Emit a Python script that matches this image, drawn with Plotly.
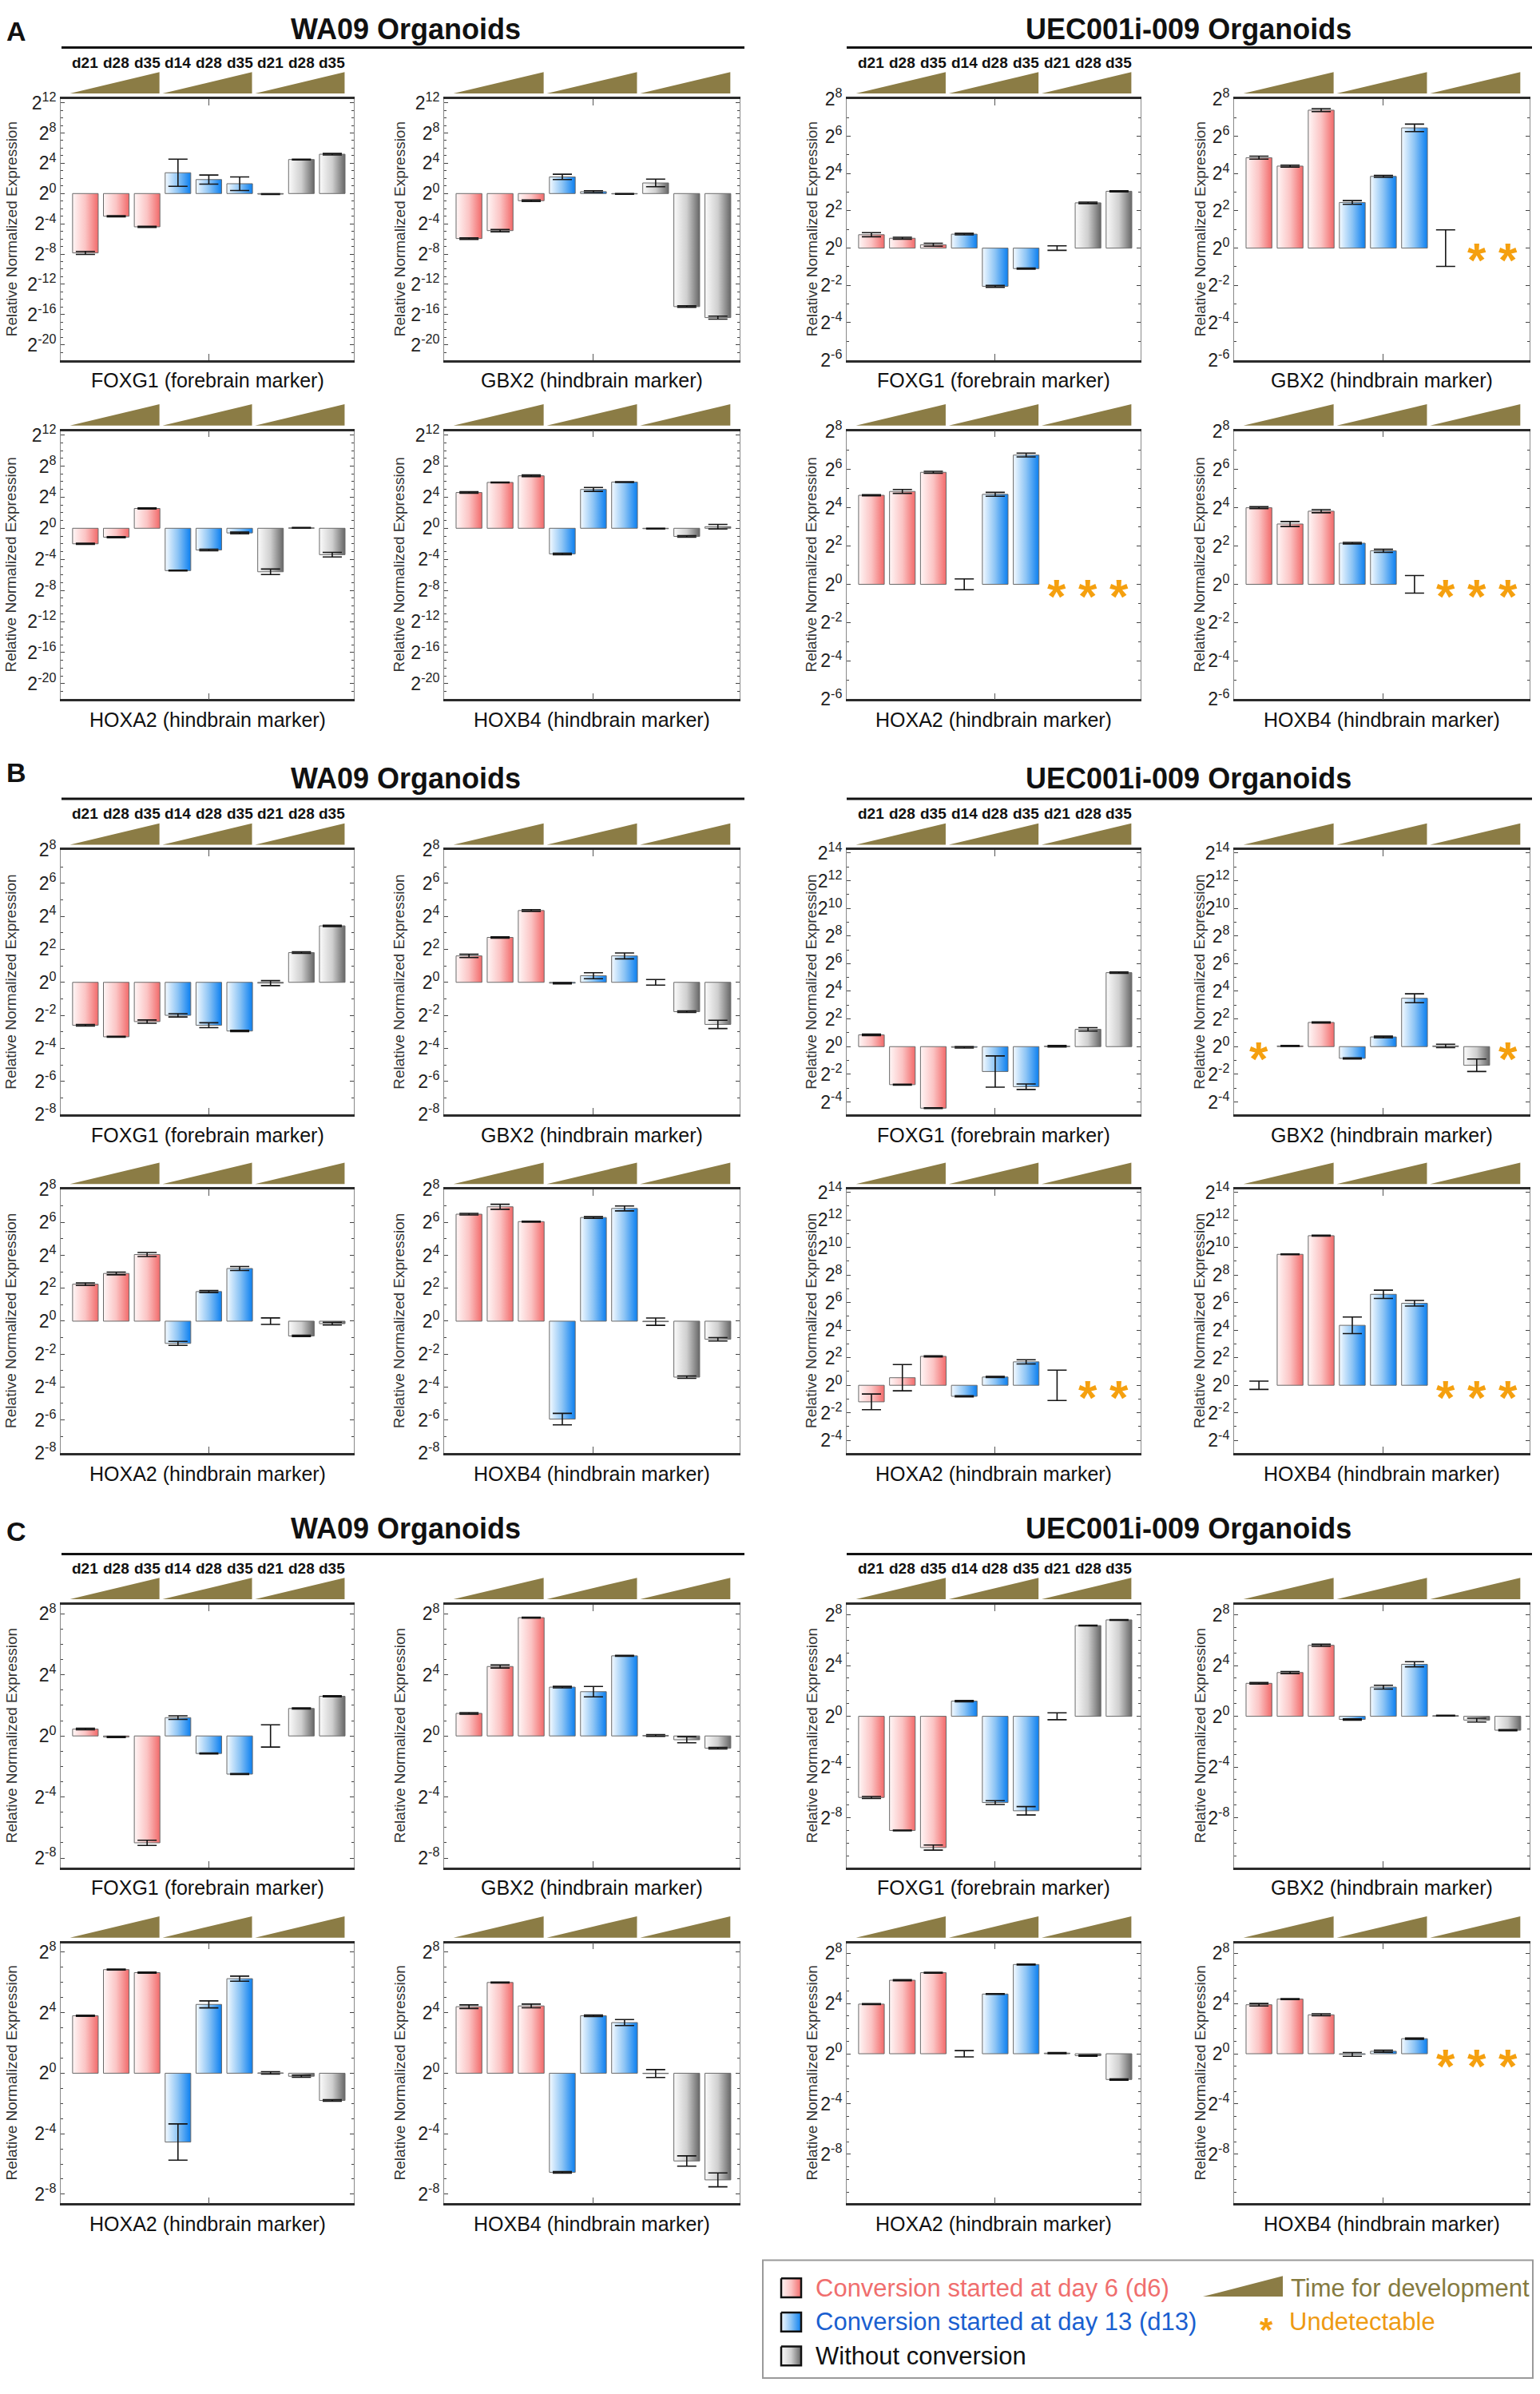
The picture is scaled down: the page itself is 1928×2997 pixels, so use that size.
import plotly.graph_objects as go

# ---------------------------------------------------------------- data
# values are log2(relative normalized expression); None = undetectable
SLOT_LABELS = ["d21", "d28", "d35", "d14", "d28", "d35", "d21", "d28", "d35"]
SLOT_GROUP = ["d6", "d6", "d6", "d13", "d13", "d13", "none", "none", "none"]
GENES = ["FOXG1", "GBX2", "HOXA2", "HOXB4"]
GENE_ROLE = ["forebrain marker", "hindbrain marker", "hindbrain marker", "hindbrain marker"]
CELL_LINES = ["WA09 Organoids", "UEC001i-009 Organoids"]
SECTIONS = ["A", "B", "C"]

A_WA09_FOXG1 = [-7.85, -3.0, -4.4, 2.75, 1.85, 1.3, -0.08, 4.5, 5.2]
A_WA09_FOXG1_ERR = [0.2, 0.08, 0.08, 1.8, 0.6, 0.9, 0.05, 0.05, 0.1]
A_WA09_GBX2 = [-5.95, -4.9, -0.95, 2.2, 0.25, -0.05, 1.4, -14.95, -16.4]
A_WA09_GBX2_ERR = [0.1, 0.15, 0.1, 0.35, 0.12, 0.05, 0.5, 0.1, 0.2]
A_WA09_HOXA2 = [-2.0, -1.15, 2.55, -5.45, -2.8, -0.6, -5.6, 0.05, -3.4]
A_WA09_HOXA2_ERR = [0.08, 0.08, 0.08, 0.05, 0.1, 0.1, 0.35, 0.05, 0.3]
A_WA09_HOXB4 = [4.6, 5.9, 6.75, -3.3, 5.0, 5.95, -0.05, -1.05, 0.2]
A_WA09_HOXB4_ERR = [0.1, 0.05, 0.1, 0.1, 0.25, 0.05, 0.05, 0.1, 0.3]

A_UEC_FOXG1 = [0.72, 0.53, 0.18, 0.75, -2.05, -1.1, 0.0, 2.43, 3.05]
A_UEC_FOXG1_ERR = [0.11, 0.05, 0.08, 0.04, 0.05, 0.03, 0.12, 0.04, 0.03]
A_UEC_GBX2 = [4.85, 4.4, 7.4, 2.45, 3.85, 6.45, 0.0, None, None]
A_UEC_GBX2_ERR = [0.08, 0.05, 0.08, 0.1, 0.05, 0.2, 0.98, 0, 0]
A_UEC_HOXA2 = [4.65, 4.85, 5.85, 0.0, 4.7, 6.75, None, None, None]
A_UEC_HOXA2_ERR = [0.03, 0.1, 0.05, 0.28, 0.1, 0.1, 0, 0, 0]
A_UEC_HOXB4 = [4.0, 3.15, 3.82, 2.15, 1.75, 0.0, None, None, None]
A_UEC_HOXB4_ERR = [0.05, 0.13, 0.08, 0.04, 0.08, 0.46, 0, 0, 0]

B_WA09_FOXG1 = [-2.6, -3.3, -2.38, -2.0, -2.6, -2.95, -0.05, 1.8, 3.42]
B_WA09_FOXG1_ERR = [0.05, 0.03, 0.1, 0.1, 0.15, 0.04, 0.15, 0.05, 0.04]
B_WA09_GBX2 = [1.6, 2.72, 4.35, -0.05, 0.4, 1.6, 0.0, -1.78, -2.55]
B_WA09_GBX2_ERR = [0.1, 0.04, 0.05, 0.04, 0.18, 0.18, 0.17, 0.05, 0.25]
B_WA09_HOXA2 = [2.25, 2.9, 4.05, -1.35, 1.8, 3.2, 0.0, -0.9, -0.15]
B_WA09_HOXA2_ERR = [0.08, 0.08, 0.12, 0.12, 0.06, 0.12, 0.2, 0.04, 0.08]
B_WA09_HOXB4 = [6.5, 6.95, 6.05, -5.95, 6.3, 6.85, -0.03, -3.4, -1.1]
B_WA09_HOXB4_ERR = [0.05, 0.15, 0.03, 0.35, 0.05, 0.15, 0.22, 0.07, 0.1]

B_UEC_FOXG1 = [0.85, -2.75, -4.45, -0.05, -1.8, -2.9, 0.03, 1.25, 5.35]
B_UEC_FOXG1_ERR = [0.05, 0.03, 0.03, 0.05, 1.13, 0.2, 0.05, 0.12, 0.05]
B_UEC_GBX2 = [None, 0.05, 1.75, -0.85, 0.7, 3.5, 0.05, -1.35, None]
B_UEC_GBX2_ERR = [0, 0.04, 0.04, 0.04, 0.06, 0.32, 0.12, 0.45, 0]
B_UEC_HOXA2 = [-1.2, 0.55, 2.1, -0.8, 0.6, 1.7, 0.0, None, None]
B_UEC_HOXA2_ERR = [0.57, 0.95, 0.04, 0.04, 0.04, 0.15, 1.1, 0, 0]
B_UEC_HOXB4 = [0.0, 9.5, 10.85, 4.35, 6.6, 5.95, None, None, None]
B_UEC_HOXB4_ERR = [0.3, 0.03, 0.03, 0.6, 0.3, 0.2, 0, 0, 0]

C_WA09_FOXG1 = [0.45, -0.07, -7.0, 1.2, -1.15, -2.5, 0.0, 1.8, 2.6]
C_WA09_FOXG1_ERR = [0.05, 0.04, 0.17, 0.12, 0.03, 0.03, 0.73, 0.04, 0.04]
C_WA09_GBX2 = [1.48, 4.55, 7.75, 3.2, 2.9, 5.25, 0.03, -0.25, -0.8]
C_WA09_GBX2_ERR = [0.05, 0.1, 0.03, 0.05, 0.34, 0.03, 0.06, 0.2, 0.05]
C_WA09_HOXA2 = [3.8, 6.85, 6.65, -4.55, 4.55, 6.25, 0.02, -0.2, -1.8]
C_WA09_HOXA2_ERR = [0.04, 0.03, 0.04, 1.2, 0.23, 0.17, 0.08, 0.07, 0.05]
C_WA09_HOXB4 = [4.4, 6.0, 4.45, -6.55, 3.8, 3.35, -0.02, -5.8, -7.05]
C_WA09_HOXB4_ERR = [0.12, 0.03, 0.12, 0.05, 0.05, 0.2, 0.26, 0.34, 0.46]

C_UEC_FOXG1 = [-6.4, -9.0, -10.35, 1.2, -6.8, -7.45, 0.0, 7.15, 7.6]
C_UEC_FOXG1_ERR = [0.08, 0.03, 0.2, 0.05, 0.15, 0.33, 0.27, 0.03, 0.03]
C_UEC_GBX2 = [2.6, 3.45, 5.6, -0.25, 2.3, 4.1, 0.05, -0.3, -1.1]
C_UEC_GBX2_ERR = [0.06, 0.08, 0.08, 0.05, 0.15, 0.2, 0.03, 0.15, 0.04]
C_UEC_HOXA2 = [3.95, 5.85, 6.45, 0.0, 4.75, 7.1, 0.05, -0.15, -2.05]
C_UEC_HOXA2_ERR = [0.04, 0.04, 0.04, 0.25, 0.03, 0.04, 0.04, 0.05, 0.05]
C_UEC_HOXB4 = [3.9, 4.35, 3.1, -0.05, 0.2, 1.2, None, None, None]
C_UEC_HOXB4_ERR = [0.1, 0.04, 0.08, 0.15, 0.08, 0.05, 0, 0, 0]

PANELS = [
    ("A", 0, 0, A_WA09_FOXG1, A_WA09_FOXG1_ERR), ("A", 0, 1, A_WA09_GBX2, A_WA09_GBX2_ERR),
    ("A", 0, 2, A_WA09_HOXA2, A_WA09_HOXA2_ERR), ("A", 0, 3, A_WA09_HOXB4, A_WA09_HOXB4_ERR),
    ("A", 1, 0, A_UEC_FOXG1, A_UEC_FOXG1_ERR), ("A", 1, 1, A_UEC_GBX2, A_UEC_GBX2_ERR),
    ("A", 1, 2, A_UEC_HOXA2, A_UEC_HOXA2_ERR), ("A", 1, 3, A_UEC_HOXB4, A_UEC_HOXB4_ERR),
    ("B", 0, 0, B_WA09_FOXG1, B_WA09_FOXG1_ERR), ("B", 0, 1, B_WA09_GBX2, B_WA09_GBX2_ERR),
    ("B", 0, 2, B_WA09_HOXA2, B_WA09_HOXA2_ERR), ("B", 0, 3, B_WA09_HOXB4, B_WA09_HOXB4_ERR),
    ("B", 1, 0, B_UEC_FOXG1, B_UEC_FOXG1_ERR), ("B", 1, 1, B_UEC_GBX2, B_UEC_GBX2_ERR),
    ("B", 1, 2, B_UEC_HOXA2, B_UEC_HOXA2_ERR), ("B", 1, 3, B_UEC_HOXB4, B_UEC_HOXB4_ERR),
    ("C", 0, 0, C_WA09_FOXG1, C_WA09_FOXG1_ERR), ("C", 0, 1, C_WA09_GBX2, C_WA09_GBX2_ERR),
    ("C", 0, 2, C_WA09_HOXA2, C_WA09_HOXA2_ERR), ("C", 0, 3, C_WA09_HOXB4, C_WA09_HOXB4_ERR),
    ("C", 1, 0, C_UEC_FOXG1, C_UEC_FOXG1_ERR), ("C", 1, 1, C_UEC_GBX2, C_UEC_GBX2_ERR),
    ("C", 1, 2, C_UEC_HOXA2, C_UEC_HOXA2_ERR), ("C", 1, 3, C_UEC_HOXB4, C_UEC_HOXB4_ERR),
]

# y-axis: range (log2) and labelled exponents per section / cell line
Y_SPEC = {
    ("A", 0): ([-22, 12.5], list(range(12, -21, -4))),
    ("A", 1): ([-6, 8], list(range(8, -7, -2))),
    ("B", 0): ([-8, 8], list(range(8, -9, -2))),
    ("B", 1): ([-4.9, 14.2], list(range(14, -5, -2))),
    ("C", 0): ([-8.6, 8.6], [8, 4, 0, -4, -8]),
    ("C", 1): ([-11.9, 8.8], [8, 4, 0, -4, -8, -12]),
}

LEGEND_ITEMS = ["Conversion started at day 6 (d6)", "Conversion started at day 13 (d13)", "Without conversion"]

# ---------------------------------------------------------------- layout / style
FIG_W, FIG_H = 1928, 2997
COL_PX = [(76, 443), (556, 926), (1060, 1428), (1545, 1915)]
ROW_PX = {"A": [(108, 438), (528, 867)], "B": [(1058, 1392), (1487, 1820)], "C": [(2012, 2344), (2440, 2769)]}
HEAD_PX = {"A": (22, 20, 43), "B": (960, 967, 993), "C": (1919, 1916, 1948)}
YTITLE_X = [14, 500, 1016, 1502]
BAR_W = 0.83
FONT = "Liberation Sans, Arial, sans-serif"
OLIVE = "#8b7c45"
ORANGE = "#f5a00f"
SCALES = {
    "d6": [[0, "#fff6f6"], [0.5, "#fbc4c4"], [1, "#f26a6a"]],
    "d13": [[0, "#f4faff"], [0.5, "#8cc4f5"], [1, "#0b7ff0"]],
    "none": [[0, "#fbfbfb"], [0.5, "#cfcfcf"], [1, "#666666"]],
}


def fx(p):
    return p / FIG_W


def fy(p):
    return 1 - p / FIG_H


def note(text, x, y, size, color="#111", xref="paper", yref="paper", xanchor="center", **kw):
    return dict(text=text, x=x, y=y, xref=xref, yref=yref, xanchor=xanchor, yanchor="middle",
                showarrow=False, font=dict(family=FONT, size=size, color=color), **kw)


fig = go.Figure()
layout = {}
annotations = []
shapes = []

for n, (sec, line, gi, vals, errs) in enumerate(PANELS, start=1):
    col = 2 * line + gi % 2
    row = gi // 2
    xl, xr = COL_PX[col]
    yt, yb = ROW_PX[sec][row]
    xa, ya = f"x{n}", f"y{n}"
    xkey = "xaxis" if n == 1 else f"xaxis{n}"
    ykey = "yaxis" if n == 1 else f"yaxis{n}"
    yr, tv = Y_SPEC[(sec, line)]
    layout[xkey] = dict(domain=[fx(xl), fx(xr)], anchor=ya, range=[0.2, 9.7], tickvals=[5],
                        ticks="inside", ticklen=8, tickcolor="#555", showticklabels=False,
                        showline=True, linecolor="#2b2b2b", linewidth=2.5, mirror="ticks",
                        showgrid=False, zeroline=False, fixedrange=True)
    layout[ykey] = dict(domain=[fy(yb), fy(yt)], anchor=xa, range=yr, tickvals=tv,
                        ticktext=[f"2<sup>{t}</sup>" for t in tv], ticks="inside", ticklen=5,
                        tickcolor="#444", minor=dict(dtick=1, ticks="inside", ticklen=3, tickcolor="#444"),
                        showline=True, linecolor="#8a8a8a", linewidth=1, mirror="ticks",
                        showgrid=False, zeroline=False, fixedrange=True,
                        tickfont=dict(family=FONT, size=23, color="#222"))

    ex, ey, ee = [], [], []
    for i, (v, e) in enumerate(zip(vals, errs)):
        xc = i + 1
        if v is None:
            annotations.append(note("<b>*</b>", xc, 0, 60, ORANGE, xref=xa, yref=ya, yshift=-15))
            continue
        if v != 0:
            x0, x1 = xc - BAR_W / 2, xc + BAR_W / 2
            fig.add_trace(go.Scatter(
                x=[x0, x0, x1, x1, x0], y=[0, v, v, 0, 0], mode="lines", fill="toself",
                fillgradient=dict(type="horizontal", colorscale=SCALES[SLOT_GROUP[i]]),
                line=dict(color="#6a6a6a", width=1), xaxis=xa, yaxis=ya,
                showlegend=False, hoverinfo="skip"))
        ex.append(xc)
        ey.append(v)
        ee.append(e)
    fig.add_trace(go.Scatter(x=ex, y=ey, mode="markers", marker=dict(size=1, color="rgba(0,0,0,0)"),
                             error_y=dict(type="data", array=ee, symmetric=True, color="#151515",
                                          thickness=1.6, width=12),
                             xaxis=xa, yaxis=ya, showlegend=False, hoverinfo="skip"))

    # development-time wedges above the panel
    for g in range(3):
        a0, a1 = 3 * g + 0.5, 3 * g + 3.4
        shapes.append(dict(type="path", xref=xa, yref="paper",
                           path=f"M {a0},{fy(yt - 7)} L {a1},{fy(yt - 7)} L {a1},{fy(yt - 34)} Z",
                           fillcolor=OLIVE, line=dict(width=0)))
    # day labels above first panel of each cell line
    if gi == 0:
        for i, lab in enumerate(SLOT_LABELS):
            annotations.append(note(f"<b>{lab}</b>", i + 1, fy(yt - 46), 19, xref=xa))
    # gene label below
    annotations.append(note(f"{GENES[gi]} ({GENE_ROLE[gi]})", fx((xl + xr) / 2), fy(yb + 26), 25))
    # y title
    annotations.append(note("Relative Normalized Expression", fx(YTITLE_X[col]), fy((yt + yb) / 2), 19,
                            "#333", textangle=-90))

# section headers
for sec in SECTIONS:
    ly, ty, ry = HEAD_PX[sec]
    annotations.append(note(f"<b>{sec}</b>", fx(20), fy(ly), 34))
    for line, (cx, r0, r1) in enumerate([(508, 77, 932), (1488, 1060, 1918)]):
        annotations.append(note(f"<b>{CELL_LINES[line]}</b>", fx(cx), fy(ty), 36))
        shapes.append(dict(type="line", xref="paper", yref="paper", x0=fx(r0), x1=fx(r1), y0=fy(ry), y1=fy(ry),
                           line=dict(color="#111", width=3)))

# ---------------------------------------------------------------- legend
LX0, LX1, LY0, LY1 = 955, 1919, 2841, 2990
shapes.append(dict(type="rect", xref="paper", yref="paper", x0=fx(LX0), x1=fx(LX1), y0=fy(LY1), y1=fy(LY0),
                   line=dict(color="#9a9a9a", width=2), fillcolor="rgba(0,0,0,0)"))
layout["xaxis25"] = dict(domain=[fx(LX0), fx(LX1)], range=[LX0, LX1], visible=False, anchor="y25", fixedrange=True)
layout["yaxis25"] = dict(domain=[fy(LY1), fy(LY0)], range=[LY1, LY0], visible=False, anchor="x25", fixedrange=True)
leg_rows = [2876, 2919, 2962]
leg_colors = ["#f06e6e", "#1a5fd0", "#111111"]
for k, grp in enumerate(["d6", "d13", "none"]):
    cy = leg_rows[k]
    fig.add_trace(go.Scatter(x=[978, 978, 1003, 1003, 978], y=[cy - 12, cy + 12, cy + 12, cy - 12, cy - 12],
                             mode="lines", fill="toself",
                             fillgradient=dict(type="horizontal", colorscale=SCALES[grp]),
                             line=dict(color="#111", width=2.5), xaxis="x25", yaxis="y25",
                             showlegend=False, hoverinfo="skip"))
    annotations.append(note(LEGEND_ITEMS[k], fx(1019), fy(cy), 31, leg_colors[k], xanchor="left"))
shapes.append(dict(type="path", xref="paper", yref="paper",
                   path=f"M {fx(1506)},{fy(2887)} L {fx(1606)},{fy(2887)} L {fx(1606)},{fy(2861)} Z",
                   fillcolor=OLIVE, line=dict(width=0)))
annotations.append(note("Time for development", fx(1614), fy(2876), 31, "#857a3f", xanchor="left"))
annotations.append(note("<b>*</b>", fx(1585), fy(2919), 42, ORANGE, yshift=-10))
annotations.append(note("Undetectable", fx(1612), fy(2919), 31, "#ee9a12", xanchor="left"))

fig.update_layout(width=FIG_W, height=FIG_H, autosize=False, margin=dict(l=0, r=0, t=0, b=0),
                  paper_bgcolor="white", plot_bgcolor="white", showlegend=False,
                  font=dict(family=FONT), annotations=annotations, shapes=shapes, **layout)

fig.write_html(
    "out.html",
    config={"displayModeBar": False},
    post_script=("document.body.style.margin='0px';document.body.style.overflow='hidden';"
                 "document.documentElement.style.overflow='hidden';"),
)
